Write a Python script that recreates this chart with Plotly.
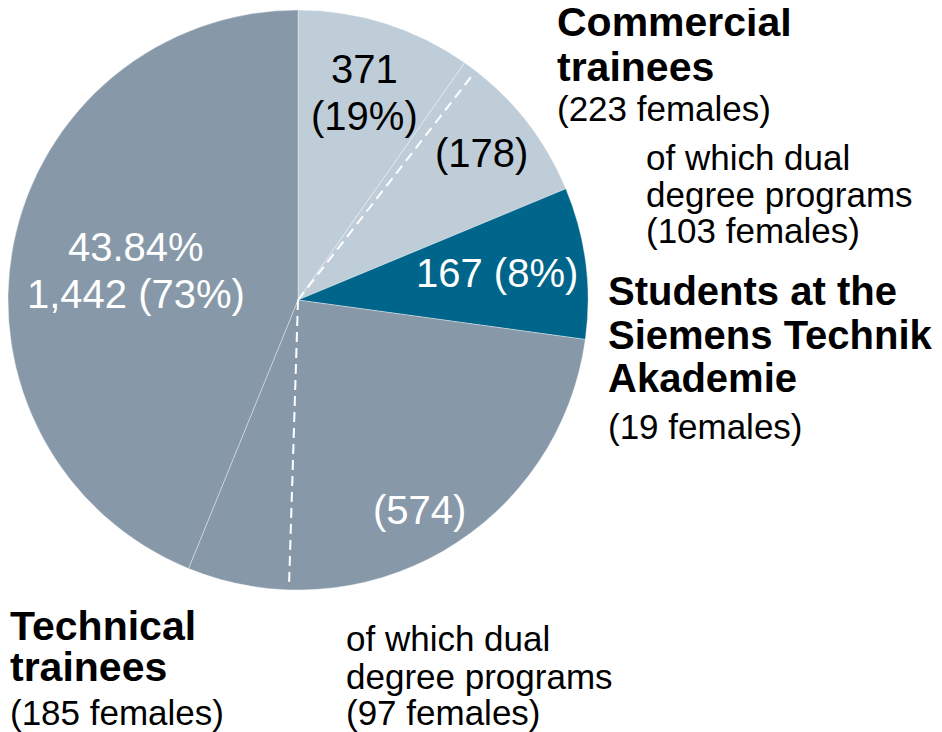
import math
import plotly.graph_objects as go

# the page body has an 8px margin, so the figure is drawn 8px in from the window corner
OFF = 8
W, H = 942 - OFF, 732 - OFF

# pie slices, clockwise from 12 o'clock
slice_names = ["Commercial trainees", "Commercial dual degree", "Siemens Technik Akademie",
               "Technical dual degree", "Technical trainees"]
slice_values = [193, 178, 167, 574, 868]
slice_colors = ["#bfcdd9", "#bfcdd9", "#00658a", "#8799a9", "#8799a9"]

# dashed divider angles (degrees clockwise from top)
dash_angles = [37.8, 181.8]

# labels inside the pie: (lines, center x px, first baseline px, color)
inner_labels = [
    (["371", "(19%)"], 364, 84, "black"),
    (["(178)"], 482, 168, "black"),
    (["167 (8%)"], 497, 288, "white"),
    (["(574)"], 419, 525, "white"),
    (["43.84%", "1,442 (73%)"], 136, 262, "white"),
]

# outside text blocks: (left x px, [(text, baseline px, size, bold)])
outer_labels = [
    (555, [("Commercial", 37, 41, True), ("trainees", 82, 41, True), ("(223 females)", 122, 35, False)]),
    (644, [("of which dual", 171, 35, False), ("degree programs", 208, 35, False), ("(103 females)", 244, 35, False)]),
    (606, [("Students at the", 306, 40, True), ("Siemens Technik", 350, 40, True), ("Akademie", 393, 40, True),
           ("(19 females)", 440, 35, False)]),
    (8, [("Technical", 641, 41, True), ("trainees", 682, 41, True), ("(185 females)", 726, 35, False)]),
    (344, [("of which dual", 652, 35, False), ("degree programs", 690, 35, False), ("(97 females)", 726, 35, False)]),
]

FONT = "Liberation Sans, Arial, sans-serif"

# pie placement in window pixels
cx, cy, R = 298, 300, 290


def px(x):
    return (x - OFF) / W


def py(y):
    return 1 - (y - OFF) / H


def add_line(fig, text, x, baseline, size, color="black", bold=False, anchor="left"):
    if bold:
        text = "<b>" + text + "</b>"
    fig.add_annotation(
        x=px(x), y=py(baseline + 0.21 * size + 1), xref="paper", yref="paper",
        text=text, showarrow=False, xanchor=anchor, yanchor="bottom",
        font=dict(family=FONT, size=size, color=color),
    )


fig = go.Figure()

fig.add_trace(go.Pie(
    labels=slice_names,
    values=slice_values,
    sort=False,
    direction="clockwise",
    rotation=0,
    marker=dict(colors=slice_colors, line=dict(color="rgba(255,255,255,0.35)", width=1)),
    textinfo="none",
    hoverinfo="label+value",
    showlegend=False,
    domain=dict(x=[px(cx - R), px(cx + R)], y=[py(cy + R), py(cy - R)]),
))

# dashed dividers for the dual degree shares
for a in dash_angles:
    r = R * 0.975
    x1 = cx + r * math.sin(math.radians(a))
    y1 = cy - r * math.cos(math.radians(a))
    fig.add_shape(type="line", xref="paper", yref="paper",
                  x0=px(cx), y0=py(cy), x1=px(x1), y1=py(y1),
                  line=dict(color="white", width=2, dash="10px,6px"))

for lines, x, base, color in inner_labels:
    for i, t in enumerate(lines):
        add_line(fig, t, x, base + i * 47, 40, color=color, anchor="center")

for x, lines in outer_labels:
    for t, base, size, bold in lines:
        add_line(fig, t, x, base, size, bold=bold)

fig.update_layout(
    width=W, height=H,
    margin=dict(l=0, r=0, t=0, b=0),
    paper_bgcolor="white",
    plot_bgcolor="white",
    font=dict(family=FONT),
)

fig.write_html("out.html")
